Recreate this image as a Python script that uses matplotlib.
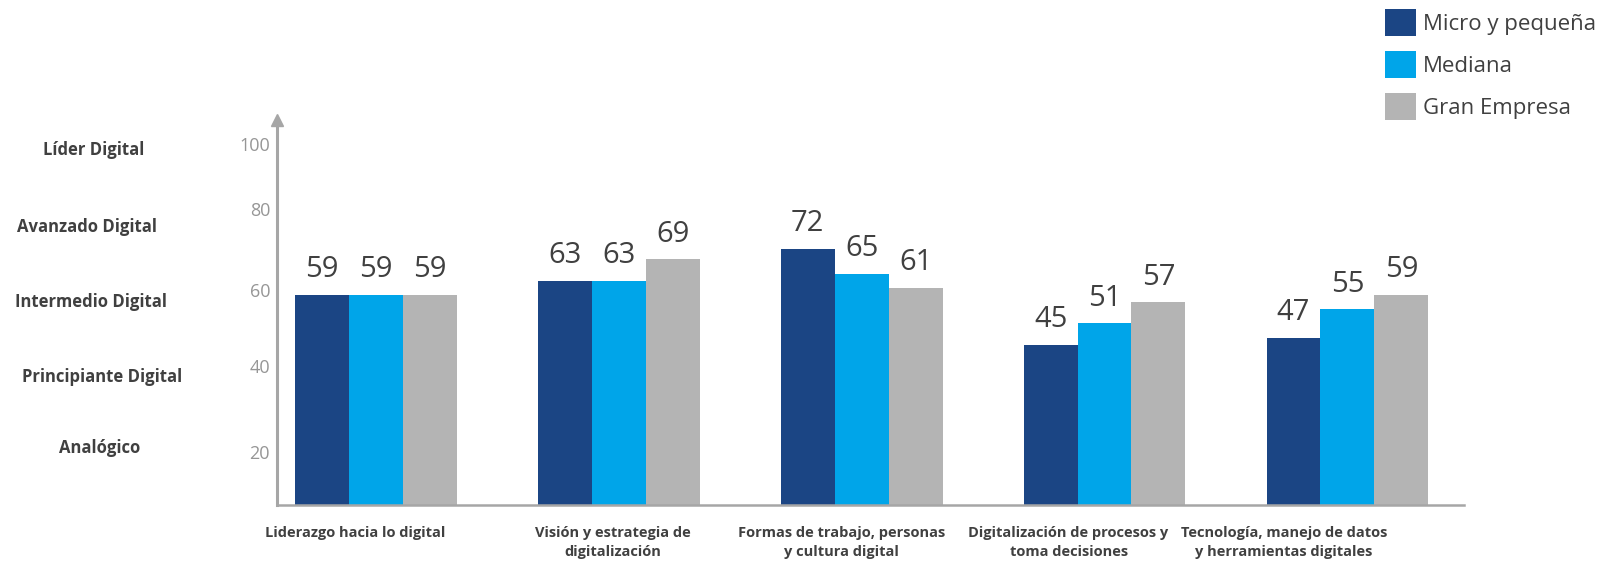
import numpy as np
import matplotlib
matplotlib.use("Agg")
import matplotlib.pyplot as plt
from matplotlib.patches import Patch

categories = [
    "Liderazgo hacia lo digital",
    "Visión y estrategia de\ndigitalización",
    "Formas de trabajo, personas\ny cultura digital",
    "Digitalización de procesos y\ntoma decisiones",
    "Tecnología, manejo de datos\ny herramientas digitales",
]
series_names = ["Micro y pequeña", "Mediana", "Gran Empresa"]
micro = [59, 63, 72, 45, 47]
mediana = [59, 63, 65, 51, 55]
gran = [59, 69, 61, 57, 59]
level_names = ["Líder Digital", "Avanzado Digital", "Intermedio Digital",
               "Principiante Digital", "Analógico"]
ytick_labels = ["20", "40", "60", "80", "100"]

# layout: where the schematic labels sit, as in the original picture
ytick_pos = [15, 39, 60.5, 83, 101.5]
level_pos = [99.7, 78, 57, 36, 16]
level_x_px = [94, 87, 91, 102, 100]
xlabel_pos = [-0.084, 0.975, 1.916, 2.852, 3.738]

colors = ["#1B4584", "#00A5E9", "#B4B4B4"]
txt_dark = "#404040"

plt.rcParams['font.family'] = ['Open Sans', 'DejaVu Sans']

fig = plt.figure(figsize=(16.06, 5.63), dpi=100)
ax = fig.add_axes([277/1606, 1-505/563, (1464-277)/1606, (505-120)/563])

x = np.arange(len(categories))
w = 0.222
for i, (vals, c, name) in enumerate(zip([micro, mediana, gran], colors, series_names)):
    bars = ax.bar(x + (i-1)*w, vals, width=w, color=c, label=name, zorder=2)
    for b, v in zip(bars, vals):
        ax.annotate(str(v), (b.get_x()+b.get_width()/2, v), xytext=(0, 7.5),
                    textcoords="offset points", ha="center", va="bottom",
                    fontsize=21, color=txt_dark)

ax.set_xlim(-0.407, 4.48)
ax.set_ylim(0, 108.1)
ax.set_xticks(xlabel_pos)
ax.set_xticklabels(categories, fontsize=10.5, fontweight="bold", color=txt_dark,
                   linespacing=1.5)
ax.set_yticks(ytick_pos)
ax.set_yticklabels(ytick_labels, fontsize=13, color="#969696")
ax.tick_params(axis="both", length=0)
ax.tick_params(axis="y", pad=5)
ax.tick_params(axis="x", pad=15)

for s in ["top", "right"]:
    ax.spines[s].set_visible(False)
ax.spines["left"].set_color("#A6A6A6")
ax.spines["left"].set_linewidth(2.2)
ax.spines["bottom"].set_color("#A6A6A6")
ax.spines["bottom"].set_linewidth(1.8)
ax.plot([0], [1], marker="^", markersize=9, color="#A6A6A6",
        transform=ax.transAxes, clip_on=False)

# level labels on the left
for name, v, px in zip(level_names, level_pos, level_x_px):
    ax.annotate(name, (0, v), xycoords=("figure fraction", "data"),
                xytext=(px/1606, 0), textcoords=("figure fraction", "offset points"),
                ha="center", va="center", fontsize=12, fontweight="bold",
                color=txt_dark)

handles = [Patch(facecolor=c, label=n) for c, n in zip(colors, series_names)]
fig.legend(handles=handles, loc="upper left", bbox_to_anchor=(1385/1606, 1-9/563),
           frameon=False, fontsize=16, handlelength=1.4, handleheight=1.5,
           handletextpad=0.3, labelspacing=0.67, borderpad=0, borderaxespad=0,
           labelcolor=txt_dark)

fig.savefig("out.png", dpi=100, facecolor="white")
